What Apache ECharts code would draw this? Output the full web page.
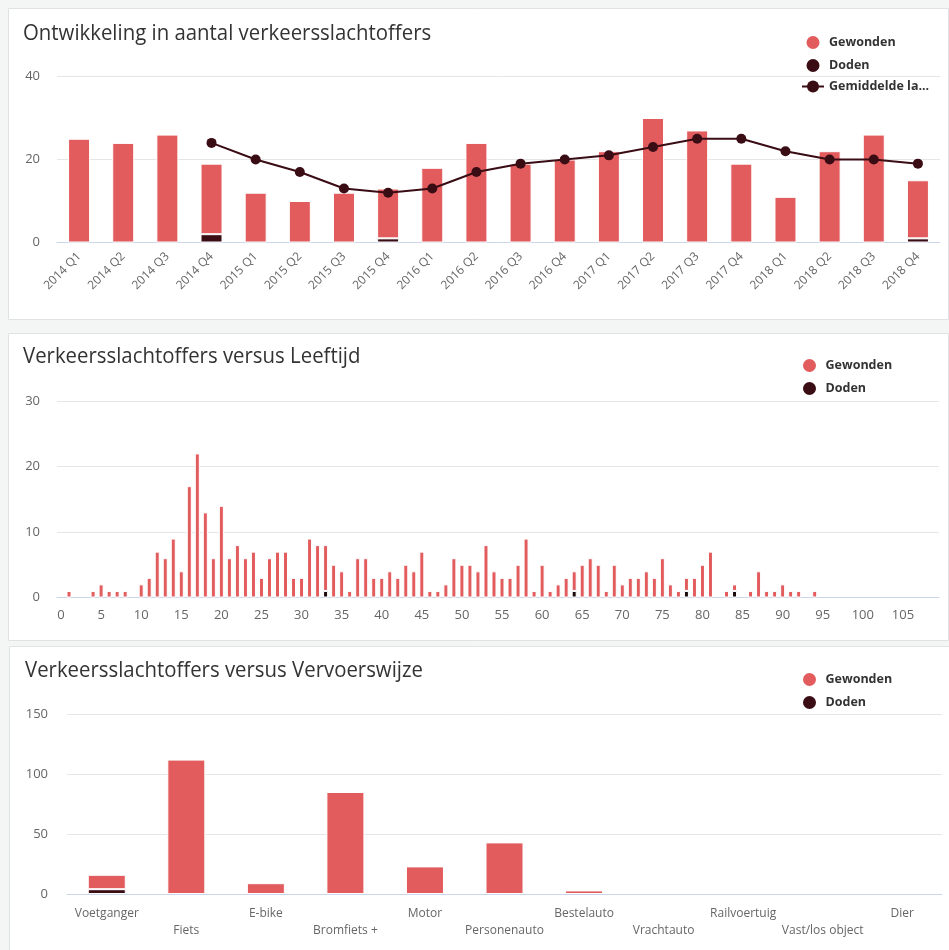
<!DOCTYPE html>
<html>
<head>
<meta charset="utf-8">
<script src="https://cdn.jsdelivr.net/npm/echarts@6/dist/echarts.min.js"></script>
<style>
  html, body { margin: 0; padding: 0; background: #f4f5f5; }
  #chart { width: 949px; height: 950px; }
</style>
</head>
<body>
<div id="chart"></div>
<script>
// Slachtoffers per kwartaal
const quarters = ['2014 Q1', '2014 Q2', '2014 Q3', '2014 Q4', '2015 Q1', '2015 Q2', '2015 Q3', '2015 Q4',
  '2016 Q1', '2016 Q2', '2016 Q3', '2016 Q4', '2017 Q1', '2017 Q2', '2017 Q3', '2017 Q4',
  '2018 Q1', '2018 Q2', '2018 Q3', '2018 Q4'];
const quarterInjured = [25, 24, 26, 17, 12, 10, 12, 12, 18, 24, 19, 20, 22, 30, 27, 19, 11, 22, 26, 14];
const quarterKilled = [0, 0, 0, 2, 0, 0, 0, 1, 0, 0, 0, 0, 0, 0, 0, 0, 0, 0, 0, 1];
const quarterAverage = [null, null, null, 24, 20, 17, 13, 12, 13, 17, 19, 20, 21, 23, 25, 25, 22, 20, 20, 19];

// Slachtoffers per leeftijd (0 t/m 109 jaar)
const ages = Array.from({ length: 110 }, (_, i) => String(i));
const ageInjured = [
  0, 1, 0, 0, 1, 2, 1, 1, 1, 0,
  2, 3, 7, 6, 9, 4, 17, 22, 13, 6,
  14, 6, 8, 6, 7, 3, 6, 7, 7, 3,
  3, 9, 8, 7, 5, 4, 1, 6, 6, 3,
  3, 4, 3, 5, 4, 7, 1, 1, 2, 6,
  5, 5, 4, 8, 4, 3, 3, 5, 9, 1,
  5, 1, 2, 3, 3, 5, 6, 5, 1, 5,
  2, 3, 3, 4, 3, 6, 2, 1, 2, 3,
  5, 7, 0, 1, 1, 0, 1, 4, 1, 1,
  2, 1, 1, 0, 1, 0, 0, 0, 0, 0,
  0, 0, 0, 0, 0, 0, 0, 0, 0, 0
];
const ageKilled = [
  0, 0, 0, 0, 0, 0, 0, 0, 0, 0,
  0, 0, 0, 0, 0, 0, 0, 0, 0, 0,
  0, 0, 0, 0, 0, 0, 0, 0, 0, 0,
  0, 0, 0, 1, 0, 0, 0, 0, 0, 0,
  0, 0, 0, 0, 0, 0, 0, 0, 0, 0,
  0, 0, 0, 0, 0, 0, 0, 0, 0, 0,
  0, 0, 0, 0, 1, 0, 0, 0, 0, 0,
  0, 0, 0, 0, 0, 0, 0, 0, 1, 0,
  0, 0, 0, 0, 1, 0, 0, 0, 0, 0,
  0, 0, 0, 0, 0, 0, 0, 0, 0, 0,
  0, 0, 0, 0, 0, 0, 0, 0, 0, 0
];

// Slachtoffers per vervoerswijze
const modes = ['Voetganger', 'Fiets', 'E-bike', 'Bromfiets +', 'Motor', 'Personenauto',
  'Bestelauto', 'Vrachtauto', 'Railvoertuig', 'Vast/los object', 'Dier'];
const modeInjured = [12, 112, 9, 85, 23, 43, 3, 0, 0, 0, 0];
const modeKilled = [4, 0, 0, 0, 0, 0, 0, 0, 0, 0, 0];

const RED = '#e25c5e';
const DARK = '#3a0c14';
const AXIS = '#ccd6eb';
const GRIDLINE = '#e6e6e6';
const LABEL = '#666666';
const FONT = '"Open Sans", "Noto Sans", sans-serif';

// zero counts are left out so no empty segment is drawn
const noZero = arr => arr.map(v => (v ? v : null));

function card(x, y, w, h) {
  return {
    type: 'rect', silent: true, z: -10,
    shape: { x: x, y: y, width: w, height: h },
    style: { fill: '#ffffff', stroke: '#dfe3e3', lineWidth: 1 }
  };
}
function heading(text, x, y) {
  return {
    type: 'text', silent: true, x: x, y: y, scaleX: 0.97,
    style: { text: text, fill: '#333333', font: '400 21px ' + FONT, textVerticalAlign: 'middle' }
  };
}
function legendAt(top, names) {
  return {
    data: names, orient: 'vertical', left: 796, top: top,
    itemWidth: 22, itemHeight: 15, itemGap: 6, selectedMode: false,
    textStyle: { color: '#333333', fontWeight: 'bold', fontSize: 12.5, fontFamily: FONT,
      width: 105, overflow: 'truncate' }
  };
}
const yLabel = { color: LABEL, fontSize: 13, fontFamily: FONT, margin: 17 };
const splitLine = { lineStyle: { color: GRIDLINE, width: 1 } };

const option = {
  animation: false,
  backgroundColor: '#f4f5f5',
  graphic: [
    card(8.5, 8.5, 940, 311),
    card(8.5, 333.5, 940, 307),
    card(9.5, 646.5, 940, 310),
    heading('Ontwikkeling in aantal verkeersslachtoffers', 23, 34),
    heading('Verkeersslachtoffers versus Leeftijd', 23, 357),
    heading('Verkeersslachtoffers versus Vervoerswijze', 25, 671)
  ],
  legend: [
    legendAt(29, [
      { name: 'Gewonden', icon: 'circle' },
      { name: 'Doden', icon: 'circle' },
      { name: 'Gemiddelde laatste 4 kwartalen' }
    ]),
    legendAt(352, [{ name: 'Gewonden', icon: 'circle' }, { name: 'Doden', icon: 'circle' }]),
    legendAt(666, [{ name: 'Gewonden', icon: 'circle' }, { name: 'Doden', icon: 'circle' }])
  ],
  grid: [
    { left: 57, right: 9, top: 76.5, height: 166 },
    { left: 57, right: 10, top: 401, height: 196.5 },
    { left: 67, right: 7, top: 714, height: 180 }
  ],
  xAxis: [
    {
      type: 'category', gridIndex: 0, data: quarters,
      axisLine: { lineStyle: { color: AXIS } },
      axisTick: { length: 10, lineStyle: { color: AXIS } },
      axisLabel: { color: LABEL, fontSize: 12, fontFamily: FONT, rotate: 45, margin: 12, interval: 0 }
    },
    {
      type: 'category', gridIndex: 1, data: ages,
      axisLine: { lineStyle: { color: AXIS } },
      axisTick: { length: 8, interval: 4, alignWithLabel: true, lineStyle: { color: AXIS } },
      axisLabel: { color: LABEL, fontSize: 13, fontFamily: FONT, interval: 4, margin: 11 }
    },
    {
      type: 'category', gridIndex: 2, data: modes,
      axisLine: { lineStyle: { color: AXIS } },
      axisTick: { length: 11, lineStyle: { color: AXIS } },
      axisLabel: {
        color: LABEL, fontSize: 12, fontFamily: FONT, interval: 0, margin: 11, lineHeight: 17,
        formatter: (v, i) => (i % 2 ? '\n' + v : v)
      }
    }
  ],
  yAxis: [
    { type: 'value', gridIndex: 0, min: 0, max: 40, interval: 20, axisLabel: yLabel, splitLine: splitLine },
    { type: 'value', gridIndex: 1, min: 0, max: 30, interval: 10, axisLabel: yLabel, splitLine: splitLine },
    { type: 'value', gridIndex: 2, min: 0, max: 150, interval: 50, axisLabel: Object.assign({}, yLabel, { margin: 19 }), splitLine: splitLine }
  ],
  series: [
    {
      name: 'Doden', type: 'bar', xAxisIndex: 0, yAxisIndex: 0, stack: 'q', barWidth: 22,
      data: noZero(quarterKilled), itemStyle: { color: DARK, borderColor: '#fff', borderWidth: 1 }
    },
    {
      name: 'Gewonden', type: 'bar', xAxisIndex: 0, yAxisIndex: 0, stack: 'q', barWidth: 22,
      data: noZero(quarterInjured), itemStyle: { color: RED, borderColor: '#fff', borderWidth: 1 }
    },
    {
      name: 'Gemiddelde laatste 4 kwartalen', type: 'line', xAxisIndex: 0, yAxisIndex: 0,
      data: quarterAverage, symbol: 'circle', symbolSize: 10, z: 5,
      lineStyle: { color: DARK, width: 2 }, itemStyle: { color: DARK }
    },
    {
      name: 'Doden', type: 'bar', xAxisIndex: 1, yAxisIndex: 1, stack: 'a', barWidth: 5,
      data: noZero(ageKilled), itemStyle: { color: '#1a0a0c', borderColor: '#fff', borderWidth: 1 }
    },
    {
      name: 'Gewonden', type: 'bar', xAxisIndex: 1, yAxisIndex: 1, stack: 'a', barWidth: 5,
      data: noZero(ageInjured), itemStyle: { color: RED, borderColor: '#fff', borderWidth: 1 }
    },
    {
      name: 'Doden', type: 'bar', xAxisIndex: 2, yAxisIndex: 2, stack: 'm', barWidth: 38,
      data: noZero(modeKilled), itemStyle: { color: DARK, borderColor: '#fff', borderWidth: 1 }
    },
    {
      name: 'Gewonden', type: 'bar', xAxisIndex: 2, yAxisIndex: 2, stack: 'm', barWidth: 38,
      data: noZero(modeInjured), itemStyle: { color: RED, borderColor: '#fff', borderWidth: 1 }
    }
  ]
};

const chart = echarts.init(document.getElementById('chart'), null, { renderer: 'canvas' });
chart.setOption(option);
</script>
</body>
</html>
